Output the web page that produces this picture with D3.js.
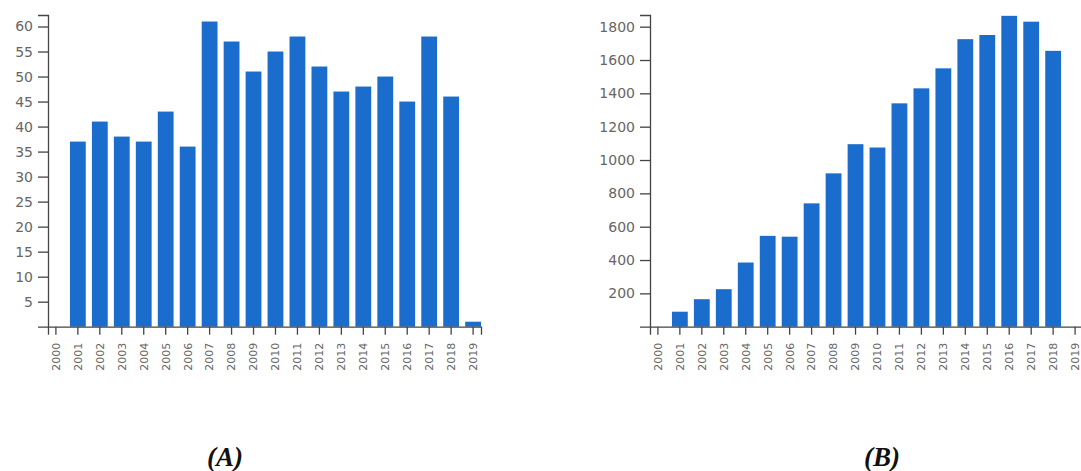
<!DOCTYPE html>
<html>
<head>
<meta charset="utf-8">
<script src="https://cdn.jsdelivr.net/npm/d3@7"></script>
<style>
  html, body { margin: 0; padding: 0; background: #fff; }
  svg { display: block; }
</style>
</head>
<body>
<svg id="chart" width="1081" height="471"></svg>
<script>
// ---- data ----
const years = ["2000","2001","2002","2003","2004","2005","2006","2007","2008","2009",
               "2010","2011","2012","2013","2014","2015","2016","2017","2018","2019"];
const valuesA = [0, 37, 41, 38, 37, 43, 36, 61, 57, 51, 55, 58, 52, 47, 48, 50, 45, 58, 46, 1];
const valuesB = [0, 90, 165, 225, 385, 545, 540, 740, 920, 1095, 1075, 1340, 1430, 1550, 1725, 1750, 1865, 1830, 1655, 0];
const ticksA = [5, 10, 15, 20, 25, 30, 35, 40, 45, 50, 55, 60];
const ticksB = [200, 400, 600, 800, 1000, 1200, 1400, 1600, 1800];
const domainMaxA = 62.3;
const domainMaxB = 1870;
const titleA = "(A)";
const titleB = "(B)";

const svg = d3.select("#chart");
const barColor = "#1b6dcd";
const axisColor = "#444";
const textColor = "#666";

function drawPanel(opts) {
  const g = svg.append("g");
  const x = d3.scaleBand()
    .domain(years)
    .range([opts.left, opts.right])
    .paddingInner(0.28)
    .paddingOuter(0);
  const y = d3.scaleLinear()
    .domain([0, opts.max])
    .range([opts.bottom, opts.top]);

  g.selectAll("rect.bar")
    .data(years.map((yr, i) => ({yr, v: opts.values[i]})))
    .join("rect")
    .attr("class", "bar")
    .attr("x", d => x(d.yr))
    .attr("width", x.bandwidth())
    .attr("y", d => y(d.v))
    .attr("height", d => y(0) - y(d.v))
    .attr("fill", barColor);

  // y axis
  const ya = g.append("g")
    .attr("transform", `translate(${opts.left},0)`)
    .call(d3.axisLeft(y).tickValues(opts.ticks).tickFormat(d3.format("d"))
      .tickSizeInner(10).tickSizeOuter(10).tickPadding(5));
  ya.select(".domain").attr("stroke", axisColor).attr("stroke-width", 1.3);
  ya.selectAll(".tick line").attr("stroke", axisColor).attr("stroke-width", 1.3);
  ya.selectAll(".tick text")
    .attr("fill", textColor)
    .style("font-family", "DejaVu Sans, Verdana, sans-serif")
    .style("font-size", "14px");

  // x axis
  const xa = g.append("g")
    .attr("transform", `translate(0,${opts.bottom})`)
    .call(d3.axisBottom(x).tickSizeInner(8).tickSizeOuter(8));
  xa.select(".domain").attr("stroke", axisColor).attr("stroke-width", 1.3);
  xa.selectAll(".tick line").attr("stroke", axisColor).attr("stroke-width", 1.3);
  xa.selectAll(".tick text")
    .attr("fill", textColor)
    .style("font-family", "DejaVu Sans, Verdana, sans-serif")
    .style("font-size", "11px")
    .attr("transform", "rotate(-90)")
    .attr("text-anchor", "end")
    .attr("x", -16)
    .attr("y", 0)
    .attr("dy", "0.35em");

  svg.append("text")
    .attr("x", opts.titleX)
    .attr("y", 466)
    .attr("text-anchor", "middle")
    .style("font-family", "Liberation Serif, Times New Roman, serif")
    .style("font-weight", "bold")
    .style("font-style", "italic")
    .style("font-size", "27px")
    .attr("fill", "#111")
    .text(opts.title);
}

drawPanel({left: 48, right: 481, top: 15, bottom: 326.7, max: domainMaxA,
           values: valuesA, ticks: ticksA, title: titleA, titleX: 225});
drawPanel({left: 650, right: 1083, top: 15, bottom: 326.7, max: domainMaxB,
           values: valuesB, ticks: ticksB, title: titleB, titleX: 882});
</script>
</body>
</html>
